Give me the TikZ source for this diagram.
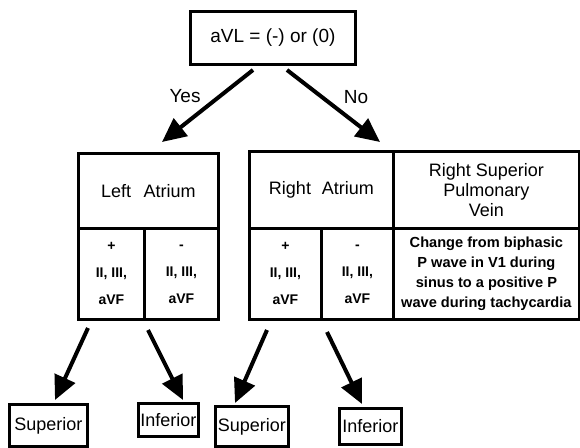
\documentclass[tikz,border=0pt]{standalone}
\usepackage{fontspec}
\setmainfont{Liberation Sans}
\usetikzlibrary{arrows.meta}
\begin{document}
\begin{tikzpicture}[x=1pt,y=-1pt,
  cell/.style={draw,line width=2.8pt,inner sep=0pt,anchor=north west,align=center},
  big/.style={font=\fontsize{18}{20}\selectfont},
  small/.style={font=\fontsize{14}{27}\selectfont\bfseries},
  note/.style={font=\fontsize{14.6}{20}\selectfont\bfseries},
  lab/.style={font=\fontsize{19}{22}\selectfont},
  arr/.style={line width=4pt,-{Triangle[length=24pt,width=22pt]}}]
\useasboundingbox (0,0) rectangle (580,447);
% top decision
\node[cell,lab,minimum width=165pt,minimum height=53pt] (top) at (189,10) {aVL = (-) or (0)};
% left atrium box
\node[cell,big,minimum width=140pt,minimum height=75pt] (la) at (77,152) {Left\hspace{0.7em}Atrium};
\node[cell,small,minimum width=66pt,minimum height=91pt] (lap) at (77,227) {+\\II, III,\\aVF};
\node[cell,small,minimum width=74pt,minimum height=91pt] (lam) at (143,227) {-\\II, III,\\aVF};
% right atrium box
\node[cell,big,minimum width=144pt,minimum height=77pt] (ra) at (248,150) {Right\hspace{0.6em}Atrium};
\node[cell,big,minimum width=186pt,minimum height=77pt] (rspv) at (392,150) {Right Superior\\Pulmonary\\Vein};
\node[cell,small,minimum width=72pt,minimum height=91pt] (rap) at (248,227) {+\\II, III,\\aVF};
\node[cell,small,minimum width=72pt,minimum height=91pt] (ram) at (320,227) {-\\II, III,\\aVF};
\node[cell,note,minimum width=186pt,minimum height=91pt] (chg) at (392,227) {Change from biphasic\\P wave in V1 during\\sinus to a positive P\\wave during tachycardia};
% result boxes
\node[cell,big,minimum width=78pt,minimum height=42pt] (sup1) at (8,403) {Superior};
\node[cell,big,minimum width=60pt,minimum height=33pt] (inf1) at (137,402) {Inferior};
\node[cell,big,minimum width=73pt,minimum height=40pt] (sup2) at (214,405) {Superior};
\node[cell,big,minimum width=62pt,minimum height=36pt] (inf2) at (338,407) {Inferior};
% labels
\node[lab] (yes) at (185,96) {Yes};
\node[lab] (no) at (356,97) {No};
% arrow end points
\coordinate (yS) at (253,70);
\coordinate (yE) at (162,142);
\coordinate (nS) at (287,70);
\coordinate (nE) at (380,142);
\coordinate (a1S) at (88,328);
\coordinate (a1E) at (55,400);
\coordinate (a2S) at (148,330);
\coordinate (a2E) at (183,400);
\coordinate (a3S) at (267,330);
\coordinate (a3E) at (235,403);
\coordinate (a4S) at (327,332);
\coordinate (a4E) at (362,404);
\draw[arr] (yS) -- (yE);
\draw[arr] (nS) -- (nE);
\draw[arr] (a1S) -- (a1E);
\draw[arr] (a2S) -- (a2E);
\draw[arr] (a3S) -- (a3E);
\draw[arr] (a4S) -- (a4E);
\end{tikzpicture}
\end{document}
